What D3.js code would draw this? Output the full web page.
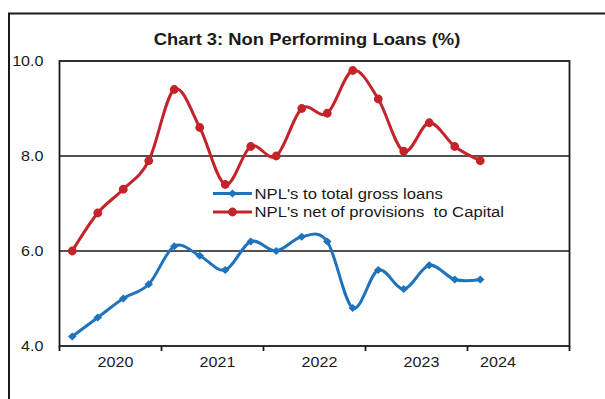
<!DOCTYPE html>
<html>
<head>
<meta charset="utf-8">
<script src="https://cdn.jsdelivr.net/npm/d3@7"></script>
<style>
  html, body { margin: 0; padding: 0; background: #fff; }
  svg { display: block; }
  text { font-family: "Liberation Sans", Arial, sans-serif; fill: #1a1a1a; white-space: pre; }
</style>
</head>
<body>
<svg id="chart" width="605" height="399"></svg>
<script>
// Quarterly axis slots, 2020 to 2024
const quarters = [
  "2020 Q1", "2020 Q2", "2020 Q3", "2020 Q4",
  "2021 Q1", "2021 Q2", "2021 Q3", "2021 Q4",
  "2022 Q1", "2022 Q2", "2022 Q3", "2022 Q4",
  "2023 Q1", "2023 Q2", "2023 Q3", "2023 Q4",
  "2024 Q1", "2024 Q2", "2024 Q3", "2024 Q4"
];
const years = ["2020", "2021", "2022", "2023", "2024"];

// NPL ratios (%), 2020 Q1 to 2024 Q1
const nplToGrossLoans = [4.2, 4.6, 5.0, 5.3, 6.1, 5.9, 5.6, 6.2, 6.0, 6.3, 6.2, 4.8, 5.6, 5.2, 5.7, 5.4, 5.4];
const nplNetToCapital = [6.0, 6.8, 7.3, 7.9, 9.4, 8.6, 7.4, 8.2, 8.0, 9.0, 8.9, 9.8, 9.2, 8.1, 8.7, 8.2, 7.9];

const yTicks = [4, 6, 8, 10];
const gridValues = [6, 8];
const seriesNames = ["NPL's to total gross loans", "NPL's net of provisions  to Capital"];
const chartTitle = "Chart 3: Non Performing Loans (%)";

const BLUE = "#1f73bd";
const RED = "#c4232a";
const INK = "#1a1a1a";
const SX = 1.15; // horizontal text stretch

const svg = d3.select("#chart");
const plot = { left: 59.5, right: 569.5, top: 61, bottom: 346 };

const x = d3.scaleBand().domain(quarters).range([plot.left, plot.right]).paddingInner(0).paddingOuter(0);
const y = d3.scaleLinear().domain([4, 10]).range([plot.bottom, plot.top]);
const cx = q => x(q) + x.bandwidth() / 2;

function label(sel, text, px, py, opts = {}) {
  return sel.append("text")
    .attr("transform", `translate(${px},${py}) scale(${SX},1)`)
    .attr("text-anchor", opts.anchor || "start")
    .style("font-size", (opts.size || 14) + "px")
    .style("font-weight", opts.weight || "normal")
    .text(text);
}

// outer frame
svg.append("rect")
  .attr("x", 9).attr("y", 13.5).attr("width", 700).attr("height", 500)
  .attr("fill", "none").attr("stroke", INK).attr("stroke-width", 2);

// title
label(svg, chartTitle, 307, 45, { anchor: "middle", size: 16, weight: "bold" });

// gridlines
svg.append("g").selectAll("line").data(gridValues).join("line")
  .attr("x1", plot.left).attr("x2", plot.right)
  .attr("y1", d => y(d)).attr("y2", d => y(d))
  .attr("stroke", INK).attr("stroke-width", 1.3);

// plot frame
svg.append("rect")
  .attr("x", plot.left).attr("y", plot.top)
  .attr("width", plot.right - plot.left).attr("height", plot.bottom - plot.top)
  .attr("fill", "none").attr("stroke", INK).attr("stroke-width", 1.8);

// year ticks on the category axis
const yearStarts = years.map((yr, i) => x(quarters[i * 4])).concat([plot.right]);
svg.append("g").selectAll("line").data(yearStarts).join("line")
  .attr("x1", d => d).attr("x2", d => d)
  .attr("y1", plot.bottom).attr("y2", plot.bottom + 5)
  .attr("stroke", INK).attr("stroke-width", 1.8);

// year labels sit over the quarters on record (plus the next pending one)
const onRecord = quarters.slice(0, nplToGrossLoans.length + 1);
years.forEach(yr => {
  const qs = onRecord.filter(q => q.startsWith(yr));
  const mid = d3.mean(qs, cx);
  label(svg, yr, mid + 5, 367, { anchor: "middle", size: 14 });
});

// value axis labels
yTicks.forEach(v => label(svg, v.toFixed(1), 43.5, y(v) + 5, { anchor: "end", size: 14 }));

// series
const line = d3.line().x(d => cx(d.q)).y(d => y(d.v)).curve(d3.curveCardinal.tension(0));
const diamond = "M0,-3.9L4.3,0L0,3.9L-4.3,0Z";

function drawSeries(values, color, marker) {
  const pts = values.map((v, i) => ({ q: quarters[i], v }));
  const g = svg.append("g");
  g.append("path").datum(pts).attr("d", line)
    .attr("fill", "none").attr("stroke", color).attr("stroke-width", 3)
    .attr("stroke-linejoin", "round").attr("stroke-linecap", "round");
  if (marker === "circle") {
    g.selectAll("circle").data(pts).join("circle")
      .attr("cx", d => cx(d.q)).attr("cy", d => y(d.v)).attr("r", 4.4).attr("fill", color);
  } else {
    g.selectAll("path.m").data(pts).join("path").attr("class", "m")
      .attr("d", diamond)
      .attr("transform", d => `translate(${cx(d.q)},${y(d.v)})`).attr("fill", color);
  }
}
drawSeries(nplToGrossLoans, BLUE, "diamond");
drawSeries(nplNetToCapital, RED, "circle");

// legend
const legendRows = [
  { name: seriesNames[0], color: BLUE, marker: "diamond", cy: 193.5 },
  { name: seriesNames[1], color: RED, marker: "circle", cy: 212 }
];
legendRows.forEach(r => {
  svg.append("line").attr("x1", 213).attr("x2", 252).attr("y1", r.cy).attr("y2", r.cy)
    .attr("stroke", r.color).attr("stroke-width", 3);
  if (r.marker === "circle") {
    svg.append("circle").attr("cx", 232.5).attr("cy", r.cy).attr("r", 4.4).attr("fill", r.color);
  } else {
    svg.append("path").attr("d", diamond).attr("transform", `translate(232.5,${r.cy})`).attr("fill", r.color);
  }
  label(svg, r.name, 254.5, r.cy + 5, { size: 14.5 });
});
</script>
</body>
</html>
